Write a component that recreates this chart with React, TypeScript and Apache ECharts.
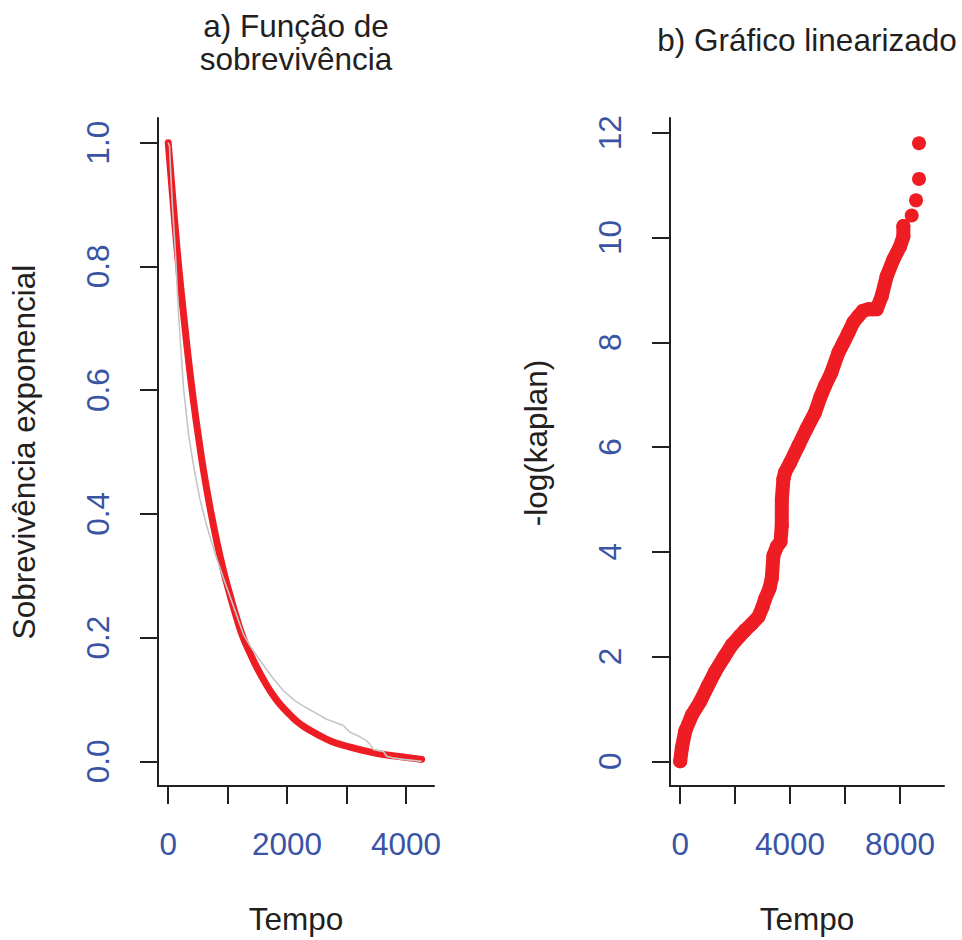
import React, { useEffect, useRef } from "react";
import * as echarts from "echarts";

// Panel a) exponential survival (red) and Kaplan–Meier (grey)
const expTime = [0, 60, 118, 190, 258, 340, 426, 510, 594, 700, 818, 930, 1042, 1150, 1260, 1380, 1500, 1650, 1800, 1920, 2050, 2170, 2300, 2499, 2750, 3059, 3350, 3619, 3950, 4264];
const expSurv = [1.0, 0.93, 0.862, 0.786, 0.723, 0.65, 0.582, 0.524, 0.47, 0.412, 0.355, 0.308, 0.268, 0.232, 0.2, 0.174, 0.15, 0.124, 0.102, 0.088, 0.075, 0.064, 0.055, 0.044, 0.032, 0.023, 0.016, 0.011, 0.007, 0.003];

const kmTime = [0, 22, 34, 70, 118, 174, 258, 340, 426, 530, 650, 790, 930, 1100, 1266, 1400, 1546, 1740, 1938, 2130, 2331, 2500, 2667, 2800, 2947, 3010, 3059, 3200, 3339, 3400, 3451, 3540, 3619, 3675, 3800, 3955, 4264];
const kmSurv = [1.0, 0.995, 0.967, 0.9, 0.827, 0.722, 0.603, 0.53, 0.478, 0.425, 0.38, 0.335, 0.296, 0.25, 0.205, 0.183, 0.163, 0.137, 0.114, 0.098, 0.086, 0.077, 0.068, 0.063, 0.058, 0.051, 0.047, 0.041, 0.033, 0.027, 0.019, 0.017, 0.016, 0.008, 0.005, 0.003, 0.0];

// Panel b) -log(kaplan) vs time
const linTime = [0, 61, 182, 424, 727, 1000, 1272, 1600, 1880, 2150, 2364, 2600, 2847, 3000, 3090, 3250, 3333, 3394, 3520, 3650, 3697, 3700, 3757, 3818, 4000, 4303, 4600, 4908, 5100, 5272, 5500, 5756, 5950, 6120, 6300, 6484, 6650, 6847, 7000, 7150, 7332, 7514, 7757, 8000, 8121, 8121];
const linVal = [0, 0.25, 0.57, 0.88, 1.14, 1.43, 1.71, 1.99, 2.22, 2.38, 2.5, 2.62, 2.76, 2.95, 3.1, 3.3, 3.49, 3.93, 4.1, 4.19, 4.5, 5.0, 5.39, 5.52, 5.7, 6.03, 6.35, 6.66, 6.95, 7.17, 7.42, 7.8, 8.0, 8.18, 8.38, 8.5, 8.6, 8.63, 8.63, 8.63, 8.88, 9.26, 9.58, 9.83, 10.02, 10.22];
const tailTime = [8424, 8583, 8690, 8690];
const tailVal = [10.42, 10.71, 11.12, 11.8];

// Axis ticks and labels
const aXTicks = [0, 1000, 2000, 3000, 4000];
const aXLabels = [0, 2000, 4000];
const aYTicks = [0, 0.2, 0.4, 0.6, 0.8, 1.0];
const bXTicks = [0, 2000, 4000, 6000, 8000];
const bXLabels = [0, 4000, 8000];
const bYTicks = [0, 2, 4, 6, 8, 10, 12];

const RED = "#EE1D24";
const GREY = "#C6C6C6";
const INK = "#231F20";
const BLUE = "#3A54A4";
const FONT = "'Liberation Sans', Arial, Helvetica, sans-serif";
const FS = 31.5;

const zip = (a: number[], b: number[]) => a.map((v, i) => [v, b[i]]);

export default function App() {
  const ref = useRef<HTMLDivElement>(null);
  useEffect(() => {
    if (!ref.current) return;
    const chart = echarts.init(ref.current, undefined, { renderer: "svg" });
    const axisLine = { show: true, onZero: false, lineStyle: { color: INK, width: 2 } };
    const tickBase = { show: true, length: 18, lineStyle: { color: INK, width: 2 } };
    const xLabel = (vals: number[]) => ({
      show: true,
      customValues: vals,
      margin: 42,
      fontSize: FS,
      color: BLUE,
      fontFamily: FONT,
      formatter: (v: number) => String(Math.round(v)),
    });
    const yLabel = (vals: number[], fmt: (v: number) => string) => ({
      show: true,
      customValues: vals,
      rotate: 90,
      margin: 44,
      fontSize: FS,
      color: BLUE,
      fontFamily: FONT,
      formatter: fmt,
    });
    const nameStyle = { fontSize: FS, color: INK, fontFamily: FONT };
    chart.setOption({
      animation: false,
      backgroundColor: "#ffffff",
      textStyle: { fontFamily: FONT },
      grid: [
        { left: 158, top: 118, width: 276, height: 670 },
        { left: 670, top: 118, width: 274, height: 670 },
      ],
      xAxis: [
        {
          type: "value",
          gridIndex: 0,
          min: -172,
          max: 4472,
          axisLine,
          axisTick: { ...tickBase, customValues: aXTicks },
          axisLabel: xLabel(aXLabels),
          splitLine: { show: false },
          name: "Tempo",
          nameLocation: "middle",
          nameGap: 117,
          nameTextStyle: nameStyle,
        },
        {
          type: "value",
          gridIndex: 1,
          min: -370,
          max: 9600,
          axisLine,
          axisTick: { ...tickBase, customValues: bXTicks },
          axisLabel: xLabel(bXLabels),
          splitLine: { show: false },
          name: "Tempo",
          nameLocation: "middle",
          nameGap: 117,
          nameTextStyle: nameStyle,
        },
      ],
      yAxis: [
        {
          type: "value",
          gridIndex: 0,
          min: -0.04,
          max: 1.04,
          axisLine,
          axisTick: { ...tickBase, customValues: aYTicks },
          axisLabel: yLabel(aYTicks, (v: number) => v.toFixed(1)),
          splitLine: { show: false },
          name: "Sobrevivência exponencial",
          nameLocation: "middle",
          nameRotate: 90,
          nameGap: 118,
          nameTextStyle: nameStyle,
        },
        {
          type: "value",
          gridIndex: 1,
          min: -0.4724,
          max: 12.2824,
          axisLine,
          axisTick: { ...tickBase, customValues: bYTicks },
          axisLabel: yLabel(bYTicks, (v: number) => String(Math.round(v))),
          splitLine: { show: false },
          name: "-log(kaplan)",
          nameLocation: "middle",
          nameRotate: 90,
          nameGap: 118,
          nameTextStyle: { ...nameStyle, padding: [0, 0, 0, 18] },
        },
      ],
      graphic: [
        { type: "text", x: 296, y: 26, style: { text: "a) Função de", align: "center", verticalAlign: "middle", fontSize: FS, fill: INK, fontFamily: FONT } },
        { type: "text", x: 296, y: 58.5, style: { text: "sobrevivência", align: "center", verticalAlign: "middle", fontSize: FS, fill: INK, fontFamily: FONT } },
        { type: "text", x: 807, y: 39.5, style: { text: "b) Gráfico linearizado", align: "center", verticalAlign: "middle", fontSize: FS, fill: INK, fontFamily: FONT } },
      ],
      series: [
        {
          type: "line",
          xAxisIndex: 0,
          yAxisIndex: 0,
          data: zip(expTime, expSurv),
          showSymbol: false,
          smooth: true,
          lineStyle: { color: RED, width: 7, cap: "round", join: "round" },
          z: 2,
        },
        {
          type: "line",
          xAxisIndex: 0,
          yAxisIndex: 0,
          data: zip(kmTime, kmSurv),
          showSymbol: false,
          lineStyle: { color: GREY, width: 1.6 },
          z: 3,
        },
        {
          type: "line",
          xAxisIndex: 1,
          yAxisIndex: 1,
          data: zip(linTime, linVal),
          showSymbol: false,
          lineStyle: { color: RED, width: 14, cap: "round", join: "round" },
          z: 2,
        },
        {
          type: "scatter",
          xAxisIndex: 1,
          yAxisIndex: 1,
          data: zip(linTime, linVal).concat(zip(tailTime, tailVal)),
          symbol: "circle",
          symbolSize: 14,
          itemStyle: { color: RED, opacity: 1 },
          z: 3,
        },
      ],
    });
    return () => chart.dispose();
  }, []);
  return (
    <div
      ref={ref}
      style={{ position: "fixed", left: 0, top: 0, width: 962, height: 940, background: "#ffffff" }}
    />
  );
}
